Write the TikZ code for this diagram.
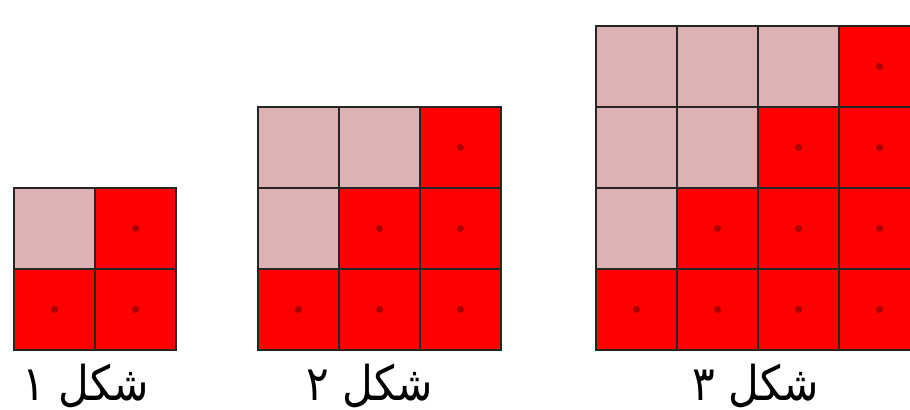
\documentclass[tikz,border=0pt]{standalone}
\usepackage{fontspec}
\newfontfamily\farsifont[Script=Arabic]{DejaVu Sans}
\TeXXeTstate=1
\usetikzlibrary{positioning}
\definecolor{pinkish}{RGB}{222,178,178}
\definecolor{dotred}{RGB}{170,0,0}
\tikzset{
  pinkcell/.style={draw=black!85, fill=pinkish, line width=1pt, minimum size=40.5pt, inner sep=0pt, outer sep=0pt},
  redcell/.style={pinkcell, fill=red},
  centerdot/.style={circle, fill=dotred, minimum size=3.5pt, inner sep=0pt},
  figlabel/.style={font=\farsifont\fontsize{24}{28}\selectfont, anchor=base, inner sep=0pt, xscale=0.88, transform shape}
}

\begin{document}
\begin{tikzpicture}[x=0.5pt, y=0.5pt]
  \useasboundingbox (0,0) rectangle (910,409);
  % staircase grids: cell red when column >= row
  \foreach \n/\xl in {2/14, 3/258, 4/596}{
    \foreach \c in {1,...,\n}{
      \foreach \r in {1,...,\n}{
        \ifnum\c<\r
          \node[pinkcell] (cell-\n-\c-\r) at ({\xl+(\c-0.5)*81}, {59+(\r-0.5)*81}) {};
        \else
          \node[redcell] (cell-\n-\c-\r) at ({\xl+(\c-0.5)*81}, {59+(\r-0.5)*81}) {};
          \node[centerdot] (dot-\n-\c-\r) at (cell-\n-\c-\r.center) {};
        \fi
      }
    }
  }
  % captions
  \node[figlabel] (label-1) at (86, 9) {\beginR شکل ۱\endR};
  \node[figlabel] (label-2) at (370, 9) {\beginR شکل ۲\endR};
  \node[figlabel] (label-3) at (756, 9) {\beginR شکل ۳\endR};
\end{tikzpicture}
\end{document}
